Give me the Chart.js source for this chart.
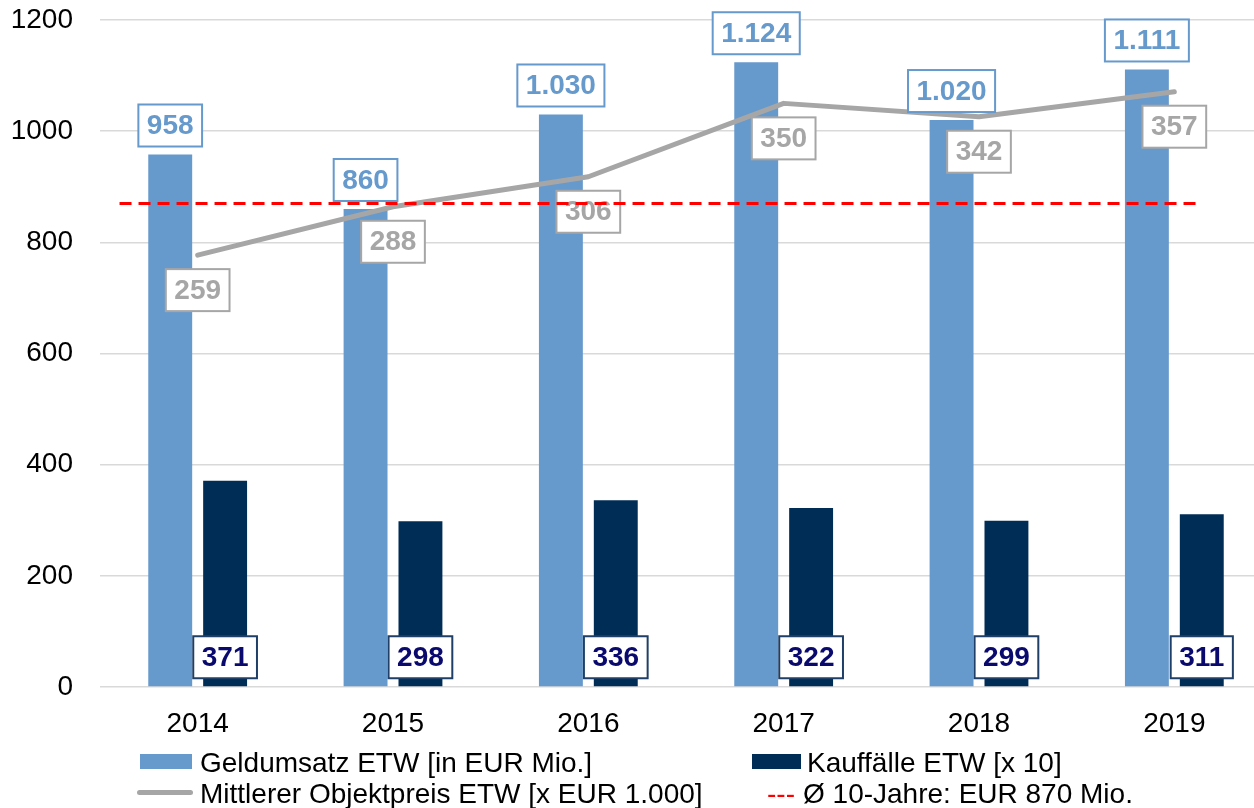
<!DOCTYPE html>
<html>
<head>
<meta charset="utf-8">
<script src="https://cdn.jsdelivr.net/npm/chart.js@4/dist/chart.umd.min.js"></script>
<style>
html,body{margin:0;padding:0;background:#fff;overflow:hidden;width:1254px;height:808px;}
#wrap{position:relative;width:1254px;height:808px;overflow:hidden;}
#c{position:absolute;left:0;top:0;}
.leg{position:absolute;font-family:"Liberation Sans",Arial,sans-serif;font-size:28px;line-height:28px;color:#000;white-space:nowrap;}
.sw{position:absolute;}
</style>
</head>
<body>
<div id="wrap">
<canvas id="c" width="1272" height="808"></canvas>
<div class="sw" id="sw1" style="left:140px;top:754px;width:52px;height:15px;"></div>
<div class="leg" id="lt1" style="left:200px;top:749px;"></div>
<div class="sw" id="sw2" style="left:752px;top:754px;width:49px;height:15px;"></div>
<div class="leg" id="lt2" style="left:807px;top:749px;"></div>
<div class="sw" id="sw3" style="left:137px;top:790px;width:56px;height:5px;border-radius:3px;"></div>
<div class="leg" id="lt3" style="left:200px;top:780px;"></div>
<div class="leg" id="sw4" style="left:767px;top:780px;color:#FF0000;">---</div>
<div class="leg" id="lt4" style="left:803px;top:780px;"></div>
</div>
<script>
// ---- data ----
const categories = ['2014', '2015', '2016', '2017', '2018', '2019'];
const geldumsatz = [958, 860, 1030, 1124, 1020, 1111];     // EUR Mio.
const kauffaelle = [371, 298, 336, 322, 299, 311];         // x 10
const objektpreis = [259, 288, 306, 350, 342, 357];        // x EUR 1.000
const avg10Jahre = 870;                                    // EUR Mio.
const avgLineSpan = [-0.4, 5.14];                          // category index range of the average line
const seriesNames = ['Geldumsatz ETW [in EUR Mio.]', 'Kauffälle ETW [x 10]',
                     'Mittlerer Objektpreis ETW [x EUR 1.000]', 'Ø 10-Jahre: EUR 870 Mio.'];

const FONT = '"Liberation Sans", Arial, sans-serif';
const cLight = '#6699CC', cDark = '#002D56', cGray = '#A6A6A6', cRed = '#FF0000';

function fmt(v){ return String(v).replace(/\B(?=(\d{3})+(?!\d))/g, '.'); }

const labelPlugin = {
  id: 'valueLabels',
  afterDatasetsDraw(chart) {
    const ctx = chart.ctx;
    ctx.save();
    ctx.font = 'bold 28px ' + FONT;
    ctx.textAlign = 'center';
    ctx.textBaseline = 'middle';
    chart.data.datasets.forEach((ds, di) => {
      if (!ds.lbl) return;
      const meta = chart.getDatasetMeta(di);
      meta.data.forEach((el, i) => {
        const txt = fmt(ds.data[i]);
        const w = ctx.measureText(txt).width + 17;
        const h = 42;
        const cx = el.x;
        let top;
        if (ds.lbl.pos === 'above') top = el.y - 8 - h;
        else if (ds.lbl.pos === 'base') top = el.base - 8 - h;
        else top = el.y + 14;
        ctx.fillStyle = '#fff';
        ctx.fillRect(cx - w / 2, top, w, h);
        ctx.lineWidth = 2;
        ctx.strokeStyle = ds.lbl.border;
        ctx.strokeRect(cx - w / 2, top, w, h);
        ctx.fillStyle = ds.lbl.color;
        ctx.fillText(txt, cx, top + h / 2 + 1);
      });
    });
    // 10-year average line, drawn through the chart's scales
    const xs = chart.scales.x, ys = chart.scales.y;
    const yy = ys.getPixelForValue(avg10Jahre);
    ctx.beginPath();
    ctx.setLineDash([12, 7]);
    ctx.lineWidth = 3;
    ctx.strokeStyle = cRed;
    ctx.moveTo(xs.getPixelForValue(avgLineSpan[0]), yy);
    ctx.lineTo(xs.getPixelForValue(avgLineSpan[1]), yy);
    ctx.stroke();
    ctx.restore();
  }
};

new Chart(document.getElementById('c'), {
  type: 'bar',
  data: {
    labels: categories,
    datasets: [
      { type: 'bar', key: 'geld', label: seriesNames[0], xAxisID: 'x', yAxisID: 'y',
        data: geldumsatz, backgroundColor: cLight, order: 2,
        categoryPercentage: 0.562, barPercentage: 0.8,
        lbl: { pos: 'above', color: cLight, border: cLight } },
      { type: 'bar', key: 'kauf', label: seriesNames[1], xAxisID: 'x', yAxisID: 'y',
        data: kauffaelle, backgroundColor: cDark, order: 3,
        categoryPercentage: 0.562, barPercentage: 0.8,
        lbl: { pos: 'base', color: '#0A0A6E', border: '#1F3F66' } },
      { type: 'line', key: 'preis', label: seriesNames[2], xAxisID: 'x', yAxisID: 'y2',
        data: objektpreis, borderColor: cGray, borderWidth: 5, pointRadius: 0,
        borderCapStyle: 'round', borderJoinStyle: 'round', tension: 0, order: 1,
        lbl: { pos: 'below', color: cGray, border: cGray } }
    ]
  },
  options: {
    responsive: false,
    animation: false,
    layout: { padding: { top: 20, left: 0, right: 0, bottom: 0 } },
    plugins: { legend: { display: false }, tooltip: { enabled: false } },
    scales: {
      x: {
        type: 'category', position: 'bottom', offset: true,
        grid: { display: false, drawTicks: false },
        border: { display: false },
        ticks: { color: '#000', font: { family: FONT, size: 28 }, padding: 20, maxRotation: 0 },
        afterFit(s) { s.height = 808 - 687; }
      },
      y: {
        min: 0, max: 1200,
        ticks: { stepSize: 200, color: '#000', font: { family: FONT, size: 28 }, padding: 0,
                 callback: v => String(v) },
        grid: { color: '#D9D9D9', lineWidth: 1.5, drawTicks: true, tickLength: 27, tickColor: 'rgba(0,0,0,0)' },
        border: { display: false },
        afterFit(s) { s.width = 100; }
      },
      y2: { display: false, min: 0, max: 400 }
    }
  },
  plugins: [labelPlugin]
});

// legend
document.getElementById('sw1').style.background = cLight;
document.getElementById('sw2').style.background = cDark;
document.getElementById('sw3').style.background = cGray;
document.getElementById('lt1').textContent = seriesNames[0];
document.getElementById('lt2').textContent = seriesNames[1];
document.getElementById('lt3').textContent = seriesNames[2];
document.getElementById('lt4').textContent = seriesNames[3];
</script>
</body>
</html>
